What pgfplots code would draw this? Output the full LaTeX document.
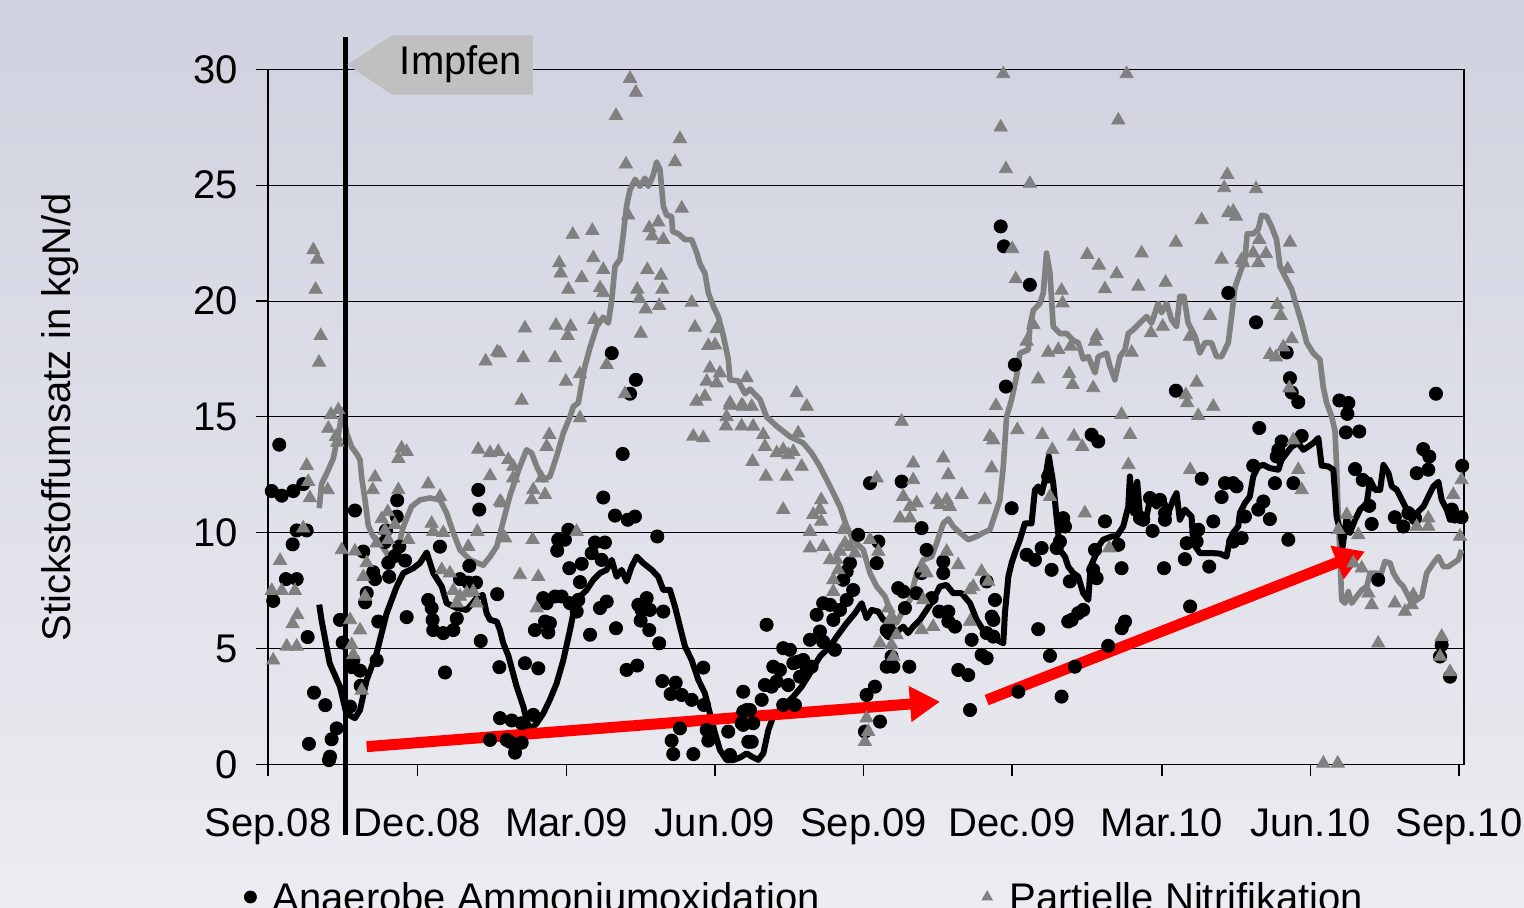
\documentclass[border=0pt]{standalone}
\usepackage{fontspec}
\setmainfont{Liberation Sans}
\usepackage{pgfplots}
\pgfplotsset{compat=1.18}
\usetikzlibrary{arrows.meta}
\definecolor{bgtop}{RGB}{207,210,223}
\definecolor{bgbot}{RGB}{236,236,241}
\definecolor{mgray}{RGB}{128,128,128}
\definecolor{boxgray}{RGB}{192,192,192}
\newcommand{\bigfont}{\fontsize{20}{24}\selectfont}
\pgfplotsset{mylegimg/.style={legend image code/.code={\path (0pt,0pt) (12pt,0pt); \draw[##1, mark size=3pt] plot coordinates {(6pt,0pt)};}}}
\begin{document}
\begin{tikzpicture}
\shade[top color=bgtop, bottom color=bgbot] (-134pt,-71.75pt) rectangle (628pt,382.25pt);
\begin{axis}[
  width=598pt, height=347.6pt, scale only axis,
  xmin=0, xmax=733.1, ymin=0, ymax=30,
  xtick={0,91.5,183,274,365,456,548,639,730},
  xticklabels={Sep.08,Dec.08,Mar.09,Jun.09,Sep.09,Dec.09,Mar.10,Jun.10,Sep.10},
  ytick={0,5,10,15,20,25,30},
  ymajorgrids, grid style={black, line width=0.5pt},
  axis line style={black, line width=0.6pt},
  tick style={black, line width=0.6pt},
  tick align=outside, major tick length=6pt,
  xtick pos=bottom, ytick pos=left,
  ticklabel style={font=\bigfont},
  /pgf/number format/assume math mode=true,
  yticklabel style={inner sep=0pt, anchor=east, xshift=-9pt},
  xticklabel style={inner sep=0pt, anchor=base, yshift=-30.25pt},
  clip=false,
  legend columns=2,
  legend style={draw=none, fill=none, inner sep=0pt, outer sep=0pt,
    at={(rel axis cs:0,0)}, anchor=west, xshift=-15pt, yshift=-66.25pt,
    font=\bigfont, nodes={inner sep=0pt, text depth=0pt}, cells={anchor=west},
    /tikz/every odd column/.append style={column sep=5pt},
    /tikz/every even column/.append style={column sep=77.5pt}},
]
% Anaerobe Ammoniumoxidation
\addplot[only marks, mark=*, mark size=3.3pt, black, mark options={draw=black, fill=black}, mylegimg]
coordinates {
(6.9,13.8)(2.3,11.8)(8.4,11.6)(15.5,11.8)(21.6,12.1)(17.6,10.1)(23.7,10.1)(15.1,9.5)(11.0,8.0)(17.6,8.0)(3.2,7.06)(24.3,5.5)(28.2,3.1)(35.1,2.56)(25.1,0.89)(39.0,1.09)(42.1,1.56)(37.4,0.19)(38.0,0.34)(44.1,6.24)(45.8,5.26)(53.3,10.96)(58.4,9.19)(64.5,8.3)(65.6,8.0)(60.5,7.4)(59.5,7.0)(67.6,6.17)(66.6,4.5)(56.4,4.05)(52.3,4.5)(51.3,4.2)(56.8,3.4)(50.3,2.5)(79.2,11.4)(78.9,10.7)(72.3,10.1)(71.7,9.6)(73.7,8.7)(74.3,8.1)(80.5,9.4)(84.0,8.8)(77.8,9.0)(85.0,6.36)(108.5,3.97)(98.2,7.1)(100.3,6.75)(100.9,6.24)(101.3,5.8)(107.4,5.67)(113.6,5.8)(115.7,6.3)(105.4,9.4)(117.7,8.0)(122.8,7.85)(127.5,7.85)(123.4,8.57)(128.9,11.85)(129.5,11.0)(140.5,7.35)(130.4,5.33)(141.8,4.2)(142.2,2.0)(149.4,1.9)(136.1,1.06)(146.3,1.06)
(210.7,17.75)(225.5,16.6)(221.9,16.0)
(217.4,13.4)(205.5,11.52)(212.7,10.74)(220.5,10.56)(224.9,10.7)(238.6,9.84)(184.1,10.13)(182.0,9.7)(177.9,9.7)(177.3,9.23)(200.4,9.58)(206.5,9.58)(198.4,9.12)(204.5,8.83)(184.7,8.47)(192.3,8.66)(191.2,7.87)(168.7,7.18)(170.8,6.96)(175.9,7.25)(180.0,7.25)(185.1,6.96)(190.2,7.1)(189.2,6.6)(163.6,5.8)(169.8,6.17)(172.8,6.1)(171.8,5.7)(197.4,5.6)(203.5,6.75)(207.6,7.03)(213.3,5.88)(227.0,6.89)(232.1,7.18)(229.0,6.67)(234.1,6.67)(242.3,6.6)(228.4,6.21)(233.7,5.8)(239.8,5.23)(157.5,4.37)(165.7,4.15)(219.8,4.08)(226.3,4.27)(266.8,4.18)(241.7,3.6)(249.9,3.53)(246.8,3.04)(253.6,3.0)(259.7,2.79)(267.2,2.57)(291.3,3.14)(155.5,1.78)(162.6,2.14)(148.3,0.98)(155.5,0.94)(151.4,0.51)(252.5,1.56)(268.9,1.49)(282.1,1.42)(247.4,1.03)(248.4,0.45)(260.7,0.45)(269.9,1.03)(290.3,1.78)(293.4,2.35)(294.4,0.98)(283.2,0.41)
(369.0,12.14)(388.4,12.21)(400.6,10.2)(361.8,9.91)(374.1,9.62)(373.1,8.69)(403.7,9.26)(413.9,8.76)(413.9,8.26)(400.6,8.26)(440.5,7.9)(386.3,7.61)(389.4,7.46)(397.6,7.39)(390.4,6.75)(406.8,7.18)(411.4,6.6)(417.0,6.6)(417.0,6.17)(421.1,5.95)(379.2,5.8)(380.8,5.67)(431.3,5.38)(437.4,4.73)(440.5,4.59)(379.2,4.22)(383.3,4.22)(393.1,4.22)(382.2,4.66)(423.1,4.08)(429.2,3.86)(372.0,3.36)(366.9,3.0)(430.3,2.35)(375.1,1.85)(365.9,1.42)(358.7,7.53)(354.7,7.1)(350.6,6.67)(340.3,6.96)(344.5,6.89)(336.3,6.46)(346.5,6.24)(352.6,7.97)(354.7,8.33)(356.7,8.69)(338.3,5.74)(332.2,5.38)(340.3,5.3)(347.5,4.95)(305.6,6.03)(315.8,5.02)(319.9,4.95)(309.7,4.22)(313.8,4.08)(322.0,4.37)(325.0,4.44)(328.1,4.51)(330.2,4.22)(333.2,4.22)(326.1,3.79)(318.9,3.43)(311.8,3.58)(304.6,3.43)(308.7,3.36)(302.6,2.79)(315.8,2.57)(323.0,2.57)(291.3,2.28)(295.4,2.35)(297.4,1.78)(291.3,1.71)(296.5,0.98)
(449.1,23.22)(451.1,22.36)(467.0,20.7)(588.6,20.35)(457.8,17.25)(452.3,16.31)(556.5,16.13)
(504.8,14.23)(508.9,13.94)(572.3,12.33)(586.6,12.14)(584.5,11.54)(455.8,11.06)(478.2,12.43)(487.4,10.63)(488.5,10.27)(513.0,10.49)(540.6,11.5)(546.7,11.42)(549.8,10.85)(549.8,10.56)(534.5,10.63)(536.5,10.56)(542.2,10.08)(579.4,10.49)(570.2,10.13)(569.2,9.62)(563.1,9.55)(485.4,9.62)(483.4,9.34)(474.2,9.34)(465.0,9.05)(470.1,8.83)(506.9,9.26)(505.8,8.4)(507.9,8.04)(521.2,9.48)(523.2,8.47)(549.2,8.47)(562.0,8.86)(576.9,8.54)(480.3,8.4)(491.5,7.9)(445.6,7.1)(443.6,6.38)(444.6,6.24)(499.7,6.67)(496.6,6.53)(492.6,6.24)(490.5,6.17)(525.3,6.17)(523.3,5.88)(565.2,6.82)(440.5,5.67)(444.6,5.52)(472.1,5.84)(479.3,4.69)(515.0,5.12)(494.6,4.22)(459.9,3.14)(486.4,2.93)
(605.6,19.08)(624.4,17.78)(626.4,16.67)(627.5,16.05)(631.5,15.64)(656.7,15.71)(662.2,15.6)(661.6,15.13)(715.9,16.0)
(660.7,14.33)(668.9,14.37)(607.6,14.52)(633.6,14.18)(621.3,13.94)(619.3,13.58)(618.3,13.29)(603.9,12.89)(666.3,12.75)(671.0,12.28)(708.1,13.61)(711.8,13.29)(711.2,12.72)(704.1,12.57)(732.0,12.89)(591.6,12.14)(593.7,12.0)(617.2,12.14)(628.5,12.14)(610.1,11.35)(607.0,11.0)(598.8,10.7)(614.1,10.59)(596.8,9.77)(591.6,9.62)(625.4,9.7)(675.0,11.16)(676.5,10.38)(690.7,10.67)(695.9,10.27)(699.0,10.85)(703.1,10.63)(725.6,11.0)(727.6,10.7)(731.6,10.67)(680.5,7.97)(719.4,5.16)(718.4,4.66)(724.5,3.79)
};
\addlegendentry{Anaerobe Ammoniumoxidation}
% Partielle Nitrifikation
\addplot[only marks, mark=triangle*, mark size=3.8pt, mgray, mark options={draw=mgray, fill=mgray}, mylegimg]
coordinates {
(27.8,22.2)(30.2,21.8)(29.2,20.5)(32.3,18.5)(31.3,17.35)(38.6,15.1)(43.1,15.3)(37.0,14.5)(41.7,14.15)(42.5,13.9)(23.7,12.9)(24.7,12.2)(25.7,11.5)(21.6,10.2)(7.4,8.8)(2.3,7.5)(8.4,7.5)(16.5,7.5)(18.0,6.45)(15.1,6.07)(11.5,5.1)(17.6,5.1)(3.2,4.5)(36.6,11.85)(45.2,9.26)(50.3,6.24)(51.3,5.16)(52.3,4.73)(56.4,5.8)(57.4,3.2)(59.5,7.25)(58.4,8.1)(60.5,8.7)(53.3,9.2)(65.6,12.4)(64.2,11.85)(69.7,10.6)(73.4,10.9)(71.7,10.1)(77.8,10.35)(66.6,9.55)(73.7,9.7)(81.9,13.65)(79.9,13.2)(85.0,13.5)(79.9,11.85)(86.0,9.7)(98.2,12.1)(105.4,11.56)(100.3,10.4)(101.3,10.05)(107.4,10.0)(106.5,8.4)(111.5,8.26)(113.6,7.5)(117.7,7.25)(121.8,7.4)(115.7,6.96)(125.8,7.46)(127.9,6.96)(122.8,9.4)(128.9,13.6)(136.1,13.45)(141.2,13.5)(147.3,13.15)(136.1,12.45)(142.2,11.35)(128.3,10.05)(145.3,9.77)(133.4,17.4)(140.5,17.8)
(221.9,29.6)(225.5,29.0)(213.3,28.0)(252.5,27.0)(219.4,25.9)(249.5,26.0)(253.6,24.0)(220.8,23.7)(239.2,23.4)(233.7,23.15)(235.5,22.8)(242.3,22.65)(186.8,22.87)(198.8,23.04)(178.5,21.64)(179.4,21.2)(199.4,21.86)(205.5,21.35)(192.3,21.0)(184.1,20.5)(203.5,20.56)(205.5,20.35)(232.5,21.35)(240.9,21.1)(241.7,20.5)(226.3,20.5)(227.6,20.1)(231.5,19.65)(239.8,19.8)(259.7,19.94)(157.5,18.83)(176.5,18.95)(185.5,18.9)(183.7,18.5)(200.0,19.2)(228.5,18.6)(261.7,18.86)(269.9,18.07)(274.0,18.1)(275.0,18.8)(142.2,17.75)(156.5,17.54)(175.9,17.54)(207.6,17.25)(191.2,16.85)(182.6,16.53)(270.9,17.1)(277.0,16.89)(268.9,16.53)(275.0,16.46)(293.4,16.68)(155.5,15.71)(218.8,15.99)(262.7,15.67)(267.8,15.88)(283.2,15.6)(291.3,15.45)(191.2,14.95)(281.1,15.0)
(172.4,14.23)(170.8,13.72)(150.3,12.86)(150.3,12.36)(143.2,11.28)(162.6,11.85)(161.6,11.42)(169.8,11.64)(167.8,12.36)(144.2,9.84)(162.2,9.7)(189.2,10.05)(154.4,8.18)(165.7,8.1)(164.7,6.75)(260.7,14.16)(266.8,14.09)(283.2,15.5)(280.7,14.6)(290.3,14.6)(290.3,15.5)
(324.0,16.03)(330.2,15.45)(296.5,15.45)(297.4,14.59)(303.6,14.23)(304.6,13.72)(311.8,13.44)(315.8,13.58)(318.9,13.36)(322.0,13.5)(325.0,14.3)(327.1,12.86)(317.9,12.43)(305.2,12.43)(297.0,13.07)(315.8,11.0)(339.1,11.42)(338.3,11.0)(334.2,10.78)(339.1,10.49)(332.2,10.05)(332.2,9.34)(340.3,9.4)(344.5,8.83)(348.6,8.83)(350.6,9.19)(353.7,9.55)(356.7,9.4)(359.8,9.12)(346.5,7.97)(349.6,8.4)(346.5,7.46)(352.6,10.13)(369.0,9.7)(374.1,9.19)(388.4,14.8)(373.1,12.36)(395.5,13.0)(395.5,12.28)(389.4,11.56)(393.5,11.13)(397.6,11.28)(387.4,10.63)(393.5,10.63)(413.9,13.22)(417.0,12.5)(425.2,11.64)(409.9,11.42)(416.0,11.42)(411.8,11.2)(417.9,11.13)(439.4,11.42)(416.0,9.19)(423.1,8.61)(401.6,8.47)(403.7,8.26)(437.4,8.33)(432.3,7.68)(430.3,7.53)(441.5,7.9)(401.6,7.1)(407.7,5.95)(400.6,5.81)(430.3,6.17)(380.2,6.75)(381.2,6.24)(385.3,5.59)(382.2,5.16)(375.1,5.23)(383.3,4.66)(366.9,2.0)(367.9,1.42)(365.9,0.98)
(450.7,29.8)(526.3,29.8)(449.1,27.5)(521.2,27.8)(452.3,25.7)(467.0,25.07)(588.0,25.45)(586.1,24.88)(572.3,23.5)(456.2,22.25)(556.5,22.53)(502.2,22.0)(509.3,21.54)(520.2,21.17)(513.0,20.52)(486.4,20.46)(487.0,19.91)(535.5,22.07)(533.4,20.63)(550.2,20.8)(584.5,21.8)(458.3,20.95)(588.6,23.8)(469.1,18.98)(577.4,19.37)(507.9,18.5)(506.9,18.26)(541.2,18.62)(548.4,18.9)(565.1,18.47)(465.0,18.26)(478.2,17.78)(484.4,17.9)(492.0,18.04)(529.4,17.78)(491.1,16.86)(493.2,16.39)(505.8,16.25)(472.1,16.63)(569.2,16.49)(562.6,15.95)(563.4,15.6)(579.4,15.45)(446.2,15.48)(523.2,15.1)(570.2,15.05)(442.5,14.15)(444.6,14.0)(443.6,12.79)(459.3,14.44)(474.6,14.23)(494.0,14.16)(499.1,13.72)(480.7,13.58)(528.4,14.23)(527.4,12.93)(565.2,12.72)(479.3,11.56)(500.7,10.85)(515.6,9.34)
(605.6,24.84)(591.6,23.87)(593.3,23.65)(626.4,22.53)(607.6,22.65)(596.8,21.78)(597.7,21.64)(603.9,22.07)(607.0,21.64)(611.7,22.04)(625.0,21.38)(618.6,19.84)(620.7,19.37)(627.5,18.36)(614.1,17.68)(617.8,17.58)(622.3,18.01)(626.0,16.24)
(628.5,14.0)(631.5,12.72)(633.6,11.85)(661.2,10.78)(668.3,9.91)(656.1,10.13)(665.3,8.69)(670.4,8.47)(674.5,7.39)(676.5,6.89)(690.7,6.96)(696.9,6.6)(701.0,6.89)(702.0,7.32)(704.1,10.27)(711.2,10.27)(711.2,10.63)(726.5,11.64)(731.6,12.28)(730.6,9.84)(680.5,5.23)(719.4,5.52)(718.4,4.66)(724.5,4.0)(646.9,0.05)(655.7,0.05)
};
\addlegendentry{Partielle Nitrifikation}
% gray moving average
\addplot[forget plot, mgray, line width=2.8pt, line join=round, no markers] coordinates {
(31.4,11.06)(32.8,12.1)(36.9,12.7)(40.0,13.2)(43.5,14.4)(45.8,15.3)(48.2,14.3)(51.3,13.7)(54.4,13.4)(56.4,13.15)(57.4,12.4)(59.5,11.4)(61.5,10.3)(64.5,9.84)(68.7,9.55)(72.8,9.12)(75.8,8.54)(78.9,9.12)(83.0,10.27)(88.0,11.13)(93.2,11.42)(99.3,11.5)(105.4,11.42)(109.5,10.85)(113.6,10.0)(117.7,9.26)(123.8,8.83)(131.9,8.6)(136.1,8.97)(140.2,9.4)(144.2,10.5)(148.3,11.6)(154.4,12.86)(158.5,13.58)(161.6,13.44)(164.7,12.86)(168.7,12.28)(172.8,12.43)(176.9,13.3)(181.0,14.3)(185.1,15.0)(187.2,15.45)(190.2,15.6)(191.2,16.0)(194.3,17.2)(197.4,18.0)(201.5,18.9)(205.5,19.3)(208.6,19.05)(210.7,20.05)(212.7,21.5)(215.8,21.8)(217.8,22.9)(219.8,24.1)(221.9,24.8)(225.0,25.25)(228.0,24.95)(231.1,25.3)(233.1,24.95)(236.2,25.45)(238.2,26.0)(240.3,25.66)(242.3,24.1)(244.4,23.7)(247.4,23.65)(248.0,23.0)(251.5,22.9)(255.6,22.65)(259.7,22.65)(262.7,22.1)(264.8,21.6)(267.8,21.2)(269.9,20.35)(273.0,19.77)(276.0,19.33)(279.1,18.5)(282.1,17.5)(283.2,16.6)(288.3,16.55)(292.4,16.0)(295.4,16.2)(301.6,15.75)(305.6,15.0)(311.8,14.6)(319.9,14.15)(328.1,13.87)(333.2,13.44)(338.3,12.86)(344.5,12.0)(350.6,11.13)(354.7,10.27)(358.7,9.7)(364.9,9.26)(369.0,8.26)(373.1,7.68)(378.2,7.25)(381.2,6.67)(385.3,6.1)(389.4,6.67)(393.5,7.1)(397.6,8.26)(401.6,8.83)(406.8,8.97)(409.8,9.55)(413.9,10.4)(417.0,10.6)(420.0,10.27)(424.1,10.0)(429.2,9.7)(434.4,9.84)(438.4,10.0)(442.5,10.13)(446.6,11.0)(448.6,11.42)(450.7,12.86)(452.7,15.0)(455.8,15.75)(458.8,16.75)(460.9,17.75)(466.0,17.9)(467.0,18.9)(469.1,19.6)(473.2,19.9)(475.2,20.35)(477.2,22.07)(479.3,21.2)(481.3,18.9)(485.4,18.6)(489.5,18.6)(493.6,18.3)(496.6,18.2)(499.7,17.5)(502.8,17.6)(506.9,16.9)(508.9,17.6)(514.0,17.75)(516.0,17.2)(519.1,16.6)(522.2,17.6)(525.3,17.9)(527.3,18.6)(530.3,18.76)(534.4,19.05)(538.5,19.33)(541.6,19.05)(545.6,19.9)(547.7,19.5)(550.8,19.9)(553.8,19.2)(556.9,18.9)(558.9,20.2)(561.4,20.2)(564.0,19.05)(568.1,18.5)(571.2,17.75)(574.3,18.2)(578.3,18.2)(581.4,17.6)(584.5,17.6)(588.6,18.2)(590.6,19.33)(592.7,20.6)(595.7,21.2)(598.8,21.8)(600.2,22.9)(603.9,22.9)(607.0,23.1)(609.0,23.7)(612.1,23.65)(615.2,23.2)(618.2,22.65)(620.3,21.5)(623.4,21.06)(627.5,20.5)(630.5,19.77)(633.6,19.05)(636.7,18.2)(640.7,17.75)(644.8,17.47)(646.8,16.3)(648.9,15.6)(652.0,15.0)(654.0,14.4)(655.0,12.86)(656.0,10.7)(657.0,9.12)(658.1,7.1)(660.1,6.96)(662.2,7.46)(664.2,6.96)(667.3,7.25)(670.4,7.53)(673.5,7.68)(675.5,8.26)(679.6,8.26)(681.7,8.11)(684.7,8.76)(687.8,8.69)(689.8,8.26)(692.9,7.9)(695.9,7.68)(699.0,7.25)(701.1,6.96)(704.1,7.1)(707.2,7.25)(710.2,8.26)(714.3,8.69)(717.4,8.97)(720.4,8.54)(723.5,8.54)(726.6,8.69)(729.6,8.83)(731.7,9.26)
};
% black moving average
\addplot[forget plot, black, line width=3pt, line join=round, no markers] coordinates {
(31.4,6.9)(32.8,6.24)(37.8,4.37)(44.1,3.36)(46.0,2.8)(48.0,2.2)(53.3,2.0)(56.4,2.35)(60.5,3.65)(66.6,4.8)(72.6,6.5)(78.9,7.68)(83.0,8.26)(89.1,8.47)(93.2,8.7)(97.3,9.15)(101.3,8.26)(106.5,7.68)(109.5,6.96)(115.7,6.75)(121.8,6.67)(127.9,7.18)(131.6,7.32)(134.0,6.53)(136.1,6.24)(140.2,6.17)(142.2,5.8)(144.2,5.23)(147.3,4.7)(152.4,3.36)(156.5,2.5)(158.5,1.92)(160.6,1.49)(164.7,1.78)(168.7,2.2)(172.8,2.8)(176.9,3.5)(181.0,4.5)(185.1,5.8)(187.2,6.53)(191.2,7.25)(195.3,7.53)(199.4,7.97)(203.5,8.26)(207.6,8.4)(210.7,8.83)(213.7,8.1)(216.8,8.4)(219.8,7.9)(222.9,8.54)(226.0,8.97)(230.0,8.69)(235.2,8.4)(239.2,8.1)(242.3,7.53)(246.4,7.53)(249.5,6.8)(252.5,5.95)(255.6,5.09)(259.7,4.5)(263.8,3.65)(267.8,3.07)(270.9,2.2)(274.0,1.35)(277.0,0.63)(281.1,0.19)(285.2,0.19)(289.3,0.3)(293.4,0.48)(296.5,0.34)(300.5,0.2)(303.6,0.48)(306.7,1.49)(309.7,2.07)(315.8,2.5)(322.0,2.93)(327.1,3.36)(332.2,3.94)(338.3,4.66)(344.5,5.09)(348.6,5.52)(354.7,6.1)(359.8,6.53)(363.9,6.96)(366.9,6.31)(370.0,6.67)(374.1,6.6)(377.1,6.24)(381.2,6.17)(384.3,5.67)(389.4,5.95)(392.4,5.67)(395.5,5.95)(399.6,6.24)(403.7,6.67)(407.7,7.1)(411.8,7.68)(415.9,7.75)(420.0,7.39)(425.2,7.39)(430.3,6.96)(434.4,6.24)(438.4,5.8)(442.5,5.67)(446.6,5.38)(450.7,5.23)(451.7,6.53)(453.8,8.11)(455.8,8.69)(457.8,9.12)(460.9,9.7)(463.9,10.4)(468.0,10.4)(470.1,11.85)(472.1,12.0)(474.2,11.7)(476.2,12.28)(478.6,13.3)(481.3,12.14)(483.3,10.7)(485.4,9.26)(488.5,8.97)(490.5,8.54)(493.6,8.26)(496.6,8.11)(499.7,7.39)(502.8,7.1)(504.2,8.54)(506.9,8.97)(508.9,9.4)(511.9,9.7)(517.0,9.84)(520.1,9.84)(524.2,10.27)(527.3,11.13)(528.3,12.43)(530.3,10.85)(532.8,12.2)(534.4,10.85)(538.5,10.7)(540.6,11.42)(544.6,11.13)(548.7,11.42)(551.8,10.85)(554.8,11.42)(556.9,11.71)(558.9,10.56)(562.0,11.0)(566.1,10.7)(567.1,9.55)(571.2,9.12)(575.3,9.12)(579.4,9.12)(583.5,9.1)(587.5,8.97)(589.6,9.7)(591.6,10.0)(594.7,10.27)(595.7,10.85)(598.8,11.28)(601.8,11.56)(603.9,12.43)(607.0,12.86)(610.1,12.93)(614.1,12.79)(619.3,12.72)(621.3,13.15)(624.4,13.44)(627.5,13.72)(631.5,13.87)(634.6,13.58)(637.7,13.72)(640.7,13.87)(643.8,14.09)(645.8,12.9)(649.9,12.86)(653.0,12.72)(655.0,10.7)(657.0,10.13)(658.7,9.4)(661.2,10.7)(663.2,10.0)(666.3,10.56)(669.4,11.0)(673.5,11.28)(675.5,12.28)(678.6,11.85)(681.7,11.85)(683.7,12.93)(686.8,12.57)(688.8,12.0)(691.9,11.85)(695.0,11.42)(698.0,11.0)(701.1,10.7)(704.1,10.85)(708.2,11.13)(711.2,11.56)(714.3,12.0)(717.4,12.2)(719.4,11.42)(722.5,11.0)(724.5,10.56)(726.6,11.0)(728.6,10.56)(731.7,10.56)
};
% trend arrows
\draw[red, line width=5.5pt, -{Triangle[length=15pt,width=17pt]}] (axis cs:60.5,0.77) -- (axis cs:411.9,2.71);
\draw[red, line width=5.5pt, -{Triangle[length=15pt,width=17pt]}] (axis cs:440.5,2.78) -- (axis cs:672.4,9.19);
% inoculation marker
\draw[black, line width=2.5pt] (axis cs:47.2,-3.05) -- (axis cs:47.2,31.4);
\fill[boxgray] (axis cs:48.6,30.2) -- (axis cs:76.0,31.46) -- (axis cs:162.4,31.46) -- (axis cs:162.4,28.91) -- (axis cs:76.0,28.91) -- cycle;
\node[font=\bigfont, anchor=base west, inner sep=0pt] at (axis cs:80.6,29.77) {Impfen};
\node[font=\bigfont, rotate=90, anchor=base, inner sep=0pt] at ([xshift=-98.5pt]rel axis cs:0,0.5) {Stickstoffumsatz in kgN/d};
\end{axis}
\pgfresetboundingbox
\useasboundingbox (-134pt,-71.75pt) rectangle (628pt,382.25pt);
\end{tikzpicture}
\end{document}
